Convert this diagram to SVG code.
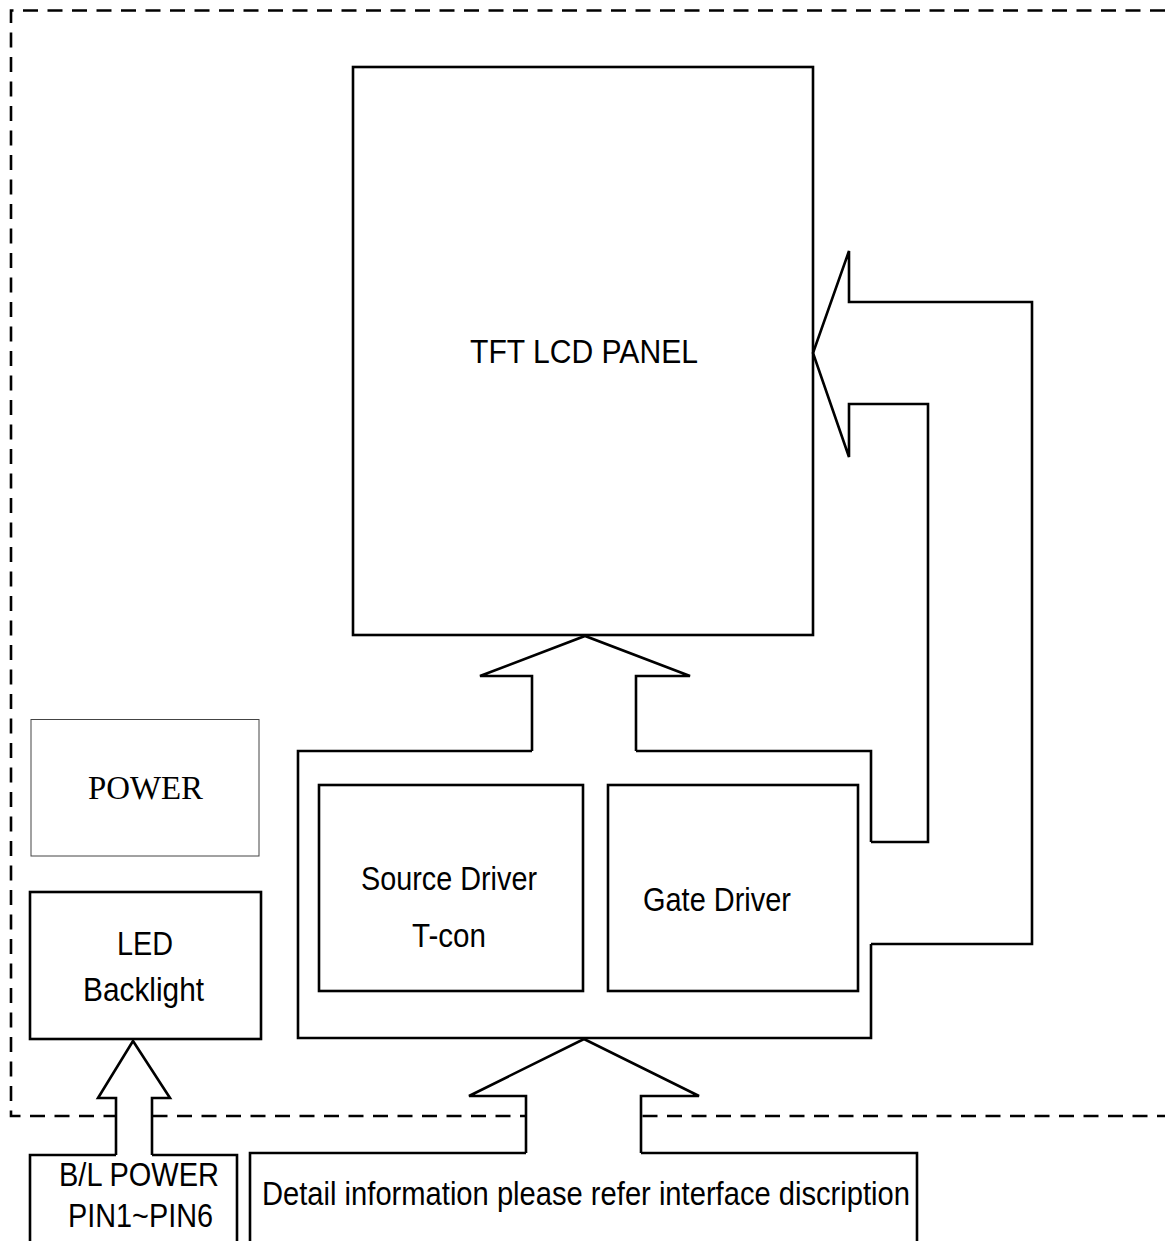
<svg xmlns="http://www.w3.org/2000/svg" width="1165" height="1241" viewBox="0 0 1165 1241">
<style>
.ln{fill:none;stroke:#000;stroke-width:2.6;stroke-linejoin:miter}
.wf{fill:#fff;stroke:none}
.dash{fill:none;stroke:#000;stroke-width:2.6;stroke-dasharray:15 9.5}
.t{font-family:"Liberation Sans",Arial,sans-serif;font-size:32.5px;fill:#000}
.s{font-family:"Liberation Serif","Times New Roman",serif;font-size:33px;fill:#000}
</style>
<rect width="1165" height="1241" fill="#fff"/>
<g id="boundary">
<path class="dash" d="M1165,10.5 H11 V1116 H1165"/>
</g>
<g id="panel">
<rect class="ln" x="353" y="67" width="460" height="568" fill="#fff"/>
<text class="t" x="470" y="363" textLength="228" lengthAdjust="spacingAndGlyphs">TFT LCD PANEL</text>
</g>
<g id="driver-board">
<polyline class="ln" points="532,751 298,751 298,1038 871,1038 871,944"/>
<polyline class="ln" points="871,842 871,751 636,751"/>
</g>
<g id="source-driver">
<rect class="ln" x="319" y="785" width="264" height="206"/>
<text class="t" x="361" y="890" textLength="176" lengthAdjust="spacingAndGlyphs">Source Driver</text>
<text class="t" x="412" y="947" textLength="74" lengthAdjust="spacingAndGlyphs">T-con</text>
</g>
<g id="gate-driver">
<rect class="ln" x="608" y="785" width="250" height="206"/>
<text class="t" x="643" y="911" textLength="148" lengthAdjust="spacingAndGlyphs">Gate Driver</text>
</g>
<g id="power">
<rect x="31" y="719.5" width="228" height="136.5" fill="#fff" stroke="#444" stroke-width="1"/>
<text class="s" x="88" y="799" textLength="115" lengthAdjust="spacingAndGlyphs">POWER</text>
</g>
<g id="led-backlight">
<rect class="ln" x="30" y="892" width="231" height="147"/>
<text class="t" x="117" y="955" textLength="56" lengthAdjust="spacingAndGlyphs">LED</text>
<text class="t" x="83" y="1001" textLength="121" lengthAdjust="spacingAndGlyphs">Backlight</text>
</g>
<g id="bl-power">
<polyline class="ln" points="116,1155 30,1155 30,1250"/>
<polyline class="ln" points="152,1155 237,1155 237,1250"/>
<text class="t" x="59" y="1186" textLength="160" lengthAdjust="spacingAndGlyphs">B/L POWER</text>
<text class="t" x="68" y="1227" textLength="145" lengthAdjust="spacingAndGlyphs">PIN1~PIN6</text>
</g>
<g id="interface">
<polyline class="ln" points="526,1153 250,1153 250,1250"/>
<polyline class="ln" points="641,1153 917,1153 917,1250"/>
<text class="t" x="262" y="1205" textLength="648" lengthAdjust="spacingAndGlyphs">Detail information please refer interface discription</text>
</g>
<g id="connectors">
<polygon class="wf" points="532,751 532,676 480,676 585,636 690,676 636,676 636,751"/>
<polyline class="ln" points="532,751 532,676 480,676 585,636 690,676 636,676 636,751"/>
<polyline class="ln" points="871,842 928,842 928,404 849,404 849,457 813,353 849,251 849,302 1032,302 1032,944 871,944"/>
<polygon class="wf" points="526,1153 526,1096 469,1096 584,1039 699,1096 641,1096 641,1153"/>
<polyline class="ln" points="526,1153 526,1096 469,1096 584,1039 699,1096 641,1096 641,1153"/>
<polygon class="wf" points="116,1155 116,1098 98,1098 133,1041 170,1098 152,1098 152,1155"/>
<polyline class="ln" points="116,1155 116,1098 98,1098 133,1041 170,1098 152,1098 152,1155"/>
</g>
</svg>
